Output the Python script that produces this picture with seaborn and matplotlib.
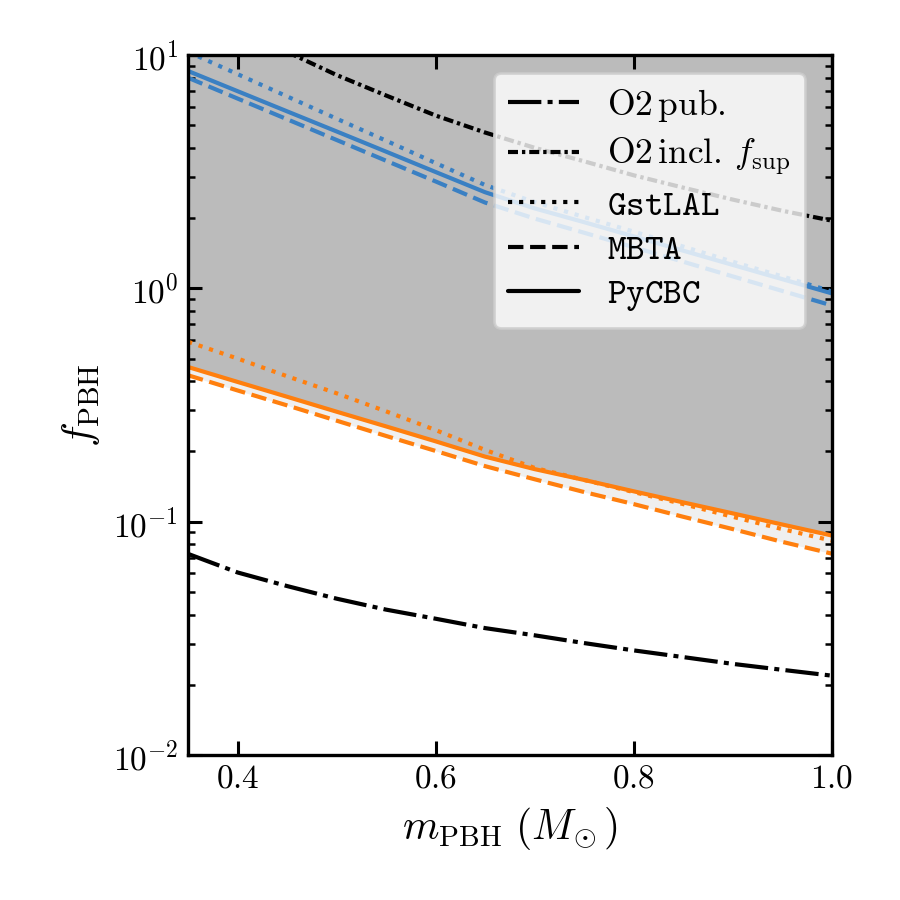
"""PBH abundance limits vs mass, O3 search pipelines compared with O2."""
import matplotlib.pyplot as plt
import pandas as pd
import seaborn as sns
from matplotlib.lines import Line2D

sns.set_style("ticks")
plt.rcParams.update({
    "font.family": "serif",
    "font.serif": ["cmr10", "DejaVu Serif"],
    "mathtext.fontset": "cm",
    "axes.formatter.use_mathtext": True,
    "font.size": 12,
    "text.color": "black",
    "axes.labelcolor": "black",
    "axes.edgecolor": "black",
    "xtick.color": "black",
    "ytick.color": "black",
    "axes.linewidth": 1.2,
    "xtick.direction": "in",
    "ytick.direction": "in",
    "xtick.top": True,
    "ytick.right": True,
    "xtick.major.size": 5,
    "ytick.major.size": 5,
    "ytick.minor.size": 2.5,
    "xtick.major.width": 1.1,
    "ytick.major.width": 1.1,
    "ytick.minor.width": 0.9,
})

# PBH mass grid (solar masses)
mass = [0.35, 0.40, 0.45, 0.50, 0.55, 0.60, 0.65, 0.70, 0.75, 0.80, 0.85, 0.90, 0.95, 1.00]

# O2 constraints
o2_pub = [0.0728, 0.0606, 0.053, 0.0468, 0.042, 0.0384, 0.035, 0.0326, 0.0302, 0.0281,
          0.0263, 0.0246, 0.0232, 0.0219]
o2_fsup = [15.0, 12.5, 10.3, 8.2, 6.7, 5.5, 4.65, 4.0, 3.5, 3.05, 2.7, 2.4, 2.15, 1.95]

# blue set of limits
blue_pycbc = [8.53, 6.99, 5.73, 4.70, 3.85, 3.15, 2.58, 2.20, 1.92, 1.67, 1.45, 1.26, 1.095, 0.952]
blue_mbta = [7.98, 6.50, 5.30, 4.32, 3.52, 2.87, 2.33, 1.99, 1.73, 1.50, 1.30, 1.125, 0.975, 0.845]
blue_gstlal = [10.3, 8.27, 6.64, 5.33, 4.29, 3.44, 2.77, 2.34, 2.02, 1.75, 1.51, 1.30, 1.125, 0.97]

# orange set of limits
orange_pycbc = [0.46, 0.397, 0.343, 0.296, 0.256, 0.221, 0.19, 0.168, 0.151, 0.135, 0.121,
                0.1086, 0.0973, 0.0873]
orange_mbta = [0.424, 0.365, 0.315, 0.271, 0.233, 0.201, 0.173, 0.152, 0.134, 0.119, 0.105,
               0.093, 0.082, 0.073]
orange_gstlal = [0.59, 0.50, 0.42, 0.355, 0.297, 0.247, 0.203, 0.170, 0.151, 0.134, 0.119,
                 0.105, 0.093, 0.083]

BLUE = "#3a80c3"
ORANGE = "#ff7f0e"
LW = 1.5
DASHDOT_LONG = (0, (8, 1.5, 1.2, 1.5))
DASHDOT_SHORT = (0, (2.4, 0.95, 0.8, 0.95))

df = pd.DataFrame({
    "mass": mass,
    "o2_pub": o2_pub, "o2_fsup": o2_fsup,
    "blue_pycbc": blue_pycbc, "blue_mbta": blue_mbta, "blue_gstlal": blue_gstlal,
    "orange_pycbc": orange_pycbc, "orange_mbta": orange_mbta, "orange_gstlal": orange_gstlal,
})

fig = plt.figure(figsize=(4.5, 4.5), dpi=200)
ax = fig.add_axes([0.209, 0.161, 0.715, 0.778])

# excluded region above PyCBC, lighter band down to MBTA
ax.fill_between(df["mass"], df["orange_pycbc"], 10, color="#bbbbbb", lw=0, zorder=0)
ax.fill_between(df["mass"], df["orange_mbta"], df["orange_pycbc"], color="#efefef", lw=0, zorder=0)

styles = [
    ("o2_pub", "black", DASHDOT_LONG),
    ("o2_fsup", "black", DASHDOT_SHORT),
    ("blue_gstlal", BLUE, ":"),
    ("blue_mbta", BLUE, "--"),
    ("blue_pycbc", BLUE, "-"),
    ("orange_gstlal", ORANGE, ":"),
    ("orange_mbta", ORANGE, "--"),
    ("orange_pycbc", ORANGE, "-"),
]
for col, color, ls in styles:
    sns.lineplot(data=df, x="mass", y=col, ax=ax, color=color, linestyle=ls, lw=LW, zorder=2)

ax.set_yscale("log")
ax.set_xlim(0.35, 1.0)
ax.set_ylim(1e-2, 1e1)
ax.set_xticks([0.4, 0.6, 0.8, 1.0])
ax.tick_params(axis="x", which="minor", bottom=False, top=False)
ax.set_xlabel(r"$m_{\rm PBH}\ (M_{\!\odot})$", fontsize=15)
ax.set_ylabel(r"$f_{\rm PBH}$", fontsize=15)

handles = [
    Line2D([], [], color="black", lw=LW, linestyle=DASHDOT_LONG),
    Line2D([], [], color="black", lw=LW, linestyle=DASHDOT_SHORT),
    Line2D([], [], color="black", lw=LW, linestyle=":"),
    Line2D([], [], color="black", lw=LW, linestyle="--"),
    Line2D([], [], color="black", lw=LW, linestyle="-"),
]
labels = [
    r"$\mathrm{O2\,pub.}$",
    r"$\mathrm{O2\,incl.}\,f_{\rm sup}$",
    r"$\mathtt{GstLAL}$",
    r"$\mathtt{MBTA}$",
    r"$\mathtt{PyCBC}$",
]
ax.legend(handles, labels, loc="upper right", bbox_to_anchor=(0.986, 1.0),
          fontsize=12.8, labelspacing=0.35)

fig.savefig("out.png", dpi=200)
